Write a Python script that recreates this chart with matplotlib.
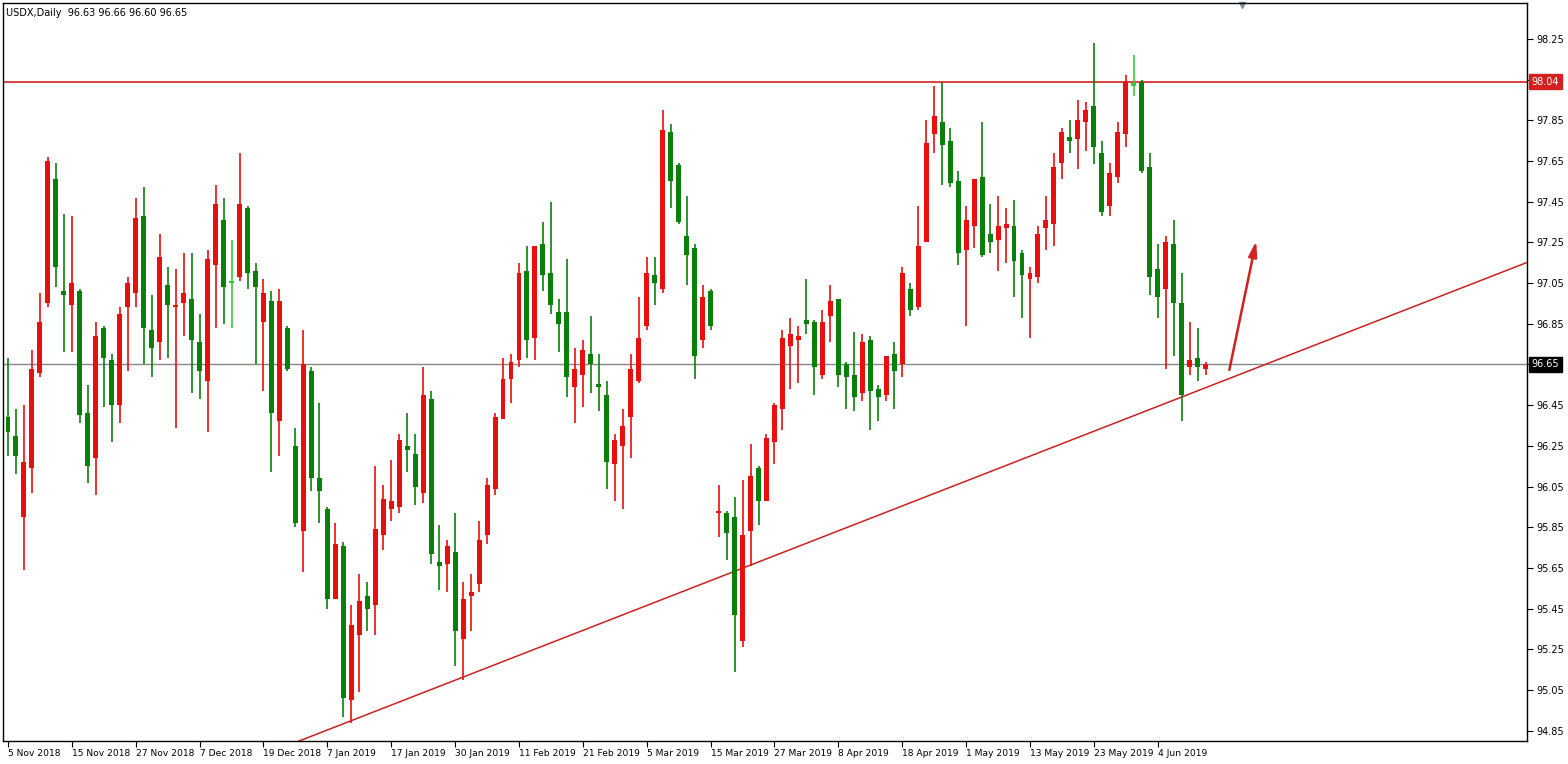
import matplotlib.pyplot as plt
import numpy as np

opens = [96.39, 96.30, 95.90, 96.14, 96.61, 96.95, 97.56, 97.01, 96.94, 97.01,
         96.41, 96.19, 96.83, 96.67, 96.45, 96.93, 97.00, 97.38, 96.82, 96.76,
         97.04, 96.93, 96.95, 96.97, 96.76, 96.57, 97.14, 97.36, 97.05, 97.08,
         97.42, 97.11, 96.86, 96.96, 96.37, 96.83, 96.25, 95.83, 96.62, 96.09,
         95.94, 95.50, 95.76, 95.00, 95.32, 95.51, 95.47, 95.81, 95.94, 95.95,
         96.25, 96.21, 96.02, 96.48, 95.68, 95.67, 95.73, 95.30, 95.51, 95.57,
         95.81, 96.04, 96.38, 96.58, 96.67, 97.11, 96.78, 97.24, 97.10, 96.91,
         96.91, 96.54, 96.60, 96.70, 96.55, 96.50, 96.16, 96.25, 96.39, 96.57,
         96.84, 97.09, 97.02, 97.79, 97.63, 97.28, 97.22, 96.77, 97.01, 95.92,
         95.92, 95.90, 95.29, 95.83, 96.14, 95.98, 96.27, 96.43, 96.74, 96.77,
         96.87, 96.86, 96.60, 96.89, 96.97, 96.65, 96.60, 96.51, 96.77, 96.53,
         96.50, 96.70, 96.65, 97.02, 96.93, 97.25, 97.78, 97.84, 97.75, 97.55,
         97.21, 97.33, 97.57, 97.29, 97.26, 97.32, 97.33, 97.20, 97.07, 97.08,
         97.32, 97.34, 97.64, 97.77, 97.76, 97.84, 97.92, 97.69, 97.43, 97.57,
         97.78, 98.02, 98.04, 97.62, 97.12, 97.02, 97.24, 96.95, 96.64, 96.68,
         96.63]
highs = [96.68, 96.43, 96.45, 96.72, 97.00, 97.67, 97.64, 97.39, 97.38, 97.02,
         96.55, 96.86, 96.84, 96.70, 96.93, 97.08, 97.47, 97.52, 96.99, 97.29,
         97.13, 97.12, 97.20, 97.20, 96.90, 97.21, 97.53, 97.47, 97.26, 97.69,
         97.43, 97.15, 97.07, 97.01, 97.02, 96.84, 96.34, 96.82, 96.64, 96.46,
         95.95, 95.87, 95.78, 95.47, 95.62, 95.58, 96.15, 96.06, 96.18, 96.31,
         96.41, 96.31, 96.64, 96.52, 95.86, 95.79, 95.92, 95.58, 95.62, 95.88,
         96.09, 96.41, 96.68, 96.70, 97.15, 97.23, 97.23, 97.35, 97.45, 96.97,
         97.17, 96.73, 96.77, 96.89, 96.70, 96.57, 96.31, 96.43, 96.70, 96.98,
         97.18, 97.18, 97.90, 97.83, 97.64, 97.48, 97.24, 97.04, 97.02, 96.06,
         95.93, 96.00, 96.08, 96.26, 96.15, 96.31, 96.46, 96.82, 96.88, 96.84,
         97.07, 96.87, 96.92, 97.04, 96.97, 96.66, 96.81, 96.80, 96.79, 96.55,
         96.69, 96.76, 97.13, 97.05, 97.43, 97.85, 98.02, 98.04, 97.81, 97.60,
         97.43, 97.56, 97.84, 97.44, 97.48, 97.42, 97.46, 97.21, 97.13, 97.33,
         97.48, 97.69, 97.81, 97.85, 97.95, 97.94, 98.23, 97.75, 97.64, 97.84,
         98.07, 98.17, 98.05, 97.69, 97.24, 97.28, 97.36, 97.10, 96.86, 96.83,
         96.66]
lows = [96.20, 96.11, 95.64, 96.02, 96.59, 96.93, 97.03, 96.71, 96.71, 96.36,
        96.07, 96.01, 96.44, 96.27, 96.36, 96.62, 96.93, 96.65, 96.59, 96.67,
        96.68, 96.34, 96.79, 96.51, 96.48, 96.32, 96.83, 96.85, 96.83, 97.06,
        97.02, 96.65, 96.52, 96.12, 96.20, 96.62, 95.85, 95.63, 96.03, 95.87,
        95.45, 95.50, 94.92, 94.89, 95.04, 95.34, 95.32, 95.74, 95.88, 95.92,
        96.12, 95.96, 95.97, 95.67, 95.54, 95.53, 95.17, 95.10, 95.34, 95.53,
        95.77, 96.01, 96.38, 96.46, 96.64, 96.68, 96.67, 97.01, 96.90, 96.71,
        96.49, 96.36, 96.44, 96.51, 96.42, 96.04, 95.98, 95.94, 96.19, 96.56,
        96.82, 96.94, 97.00, 97.42, 97.34, 97.04, 96.58, 96.73, 96.82, 95.80,
        95.69, 95.14, 95.26, 95.66, 95.86, 95.98, 96.16, 96.33, 96.53, 96.56,
        96.80, 96.50, 96.58, 96.76, 96.54, 96.43, 96.42, 96.47, 96.33, 96.37,
        96.47, 96.43, 96.59, 96.89, 96.92, 97.25, 97.69, 97.53, 97.52, 97.14,
        96.84, 97.22, 97.18, 97.20, 97.11, 97.15, 96.98, 96.88, 96.78, 97.05,
        97.21, 97.23, 97.56, 97.69, 97.61, 97.70, 97.635, 97.38, 97.38, 97.54,
        97.72, 97.97, 97.59, 96.99, 96.88, 96.63, 96.69, 96.37, 96.60, 96.57,
        96.60]
closes = [96.32, 96.20, 96.17, 96.63, 96.86, 97.65, 97.13, 96.99, 97.05, 96.40,
          96.15, 96.79, 96.68, 96.45, 96.90, 97.05, 97.37, 96.83, 96.73, 97.18,
          96.94, 96.94, 97.00, 96.77, 96.62, 97.17, 97.44, 97.03, 97.05, 97.44,
          97.10, 97.03, 97.00, 96.41, 96.96, 96.63, 95.87, 96.65, 96.09, 96.03,
          95.50, 95.77, 95.01, 95.37, 95.49, 95.45, 95.84, 95.99, 95.98, 96.28,
          96.23, 96.05, 96.50, 95.72, 95.66, 95.76, 95.34, 95.50, 95.53, 95.79,
          96.06, 96.39, 96.58, 96.66, 97.10, 96.77, 97.23, 97.09, 96.94, 96.85,
          96.59, 96.63, 96.72, 96.65, 96.54, 96.17, 96.28, 96.35, 96.63, 96.78,
          97.10, 97.05, 97.80, 97.55, 97.35, 97.19, 96.69, 96.98, 96.84, 95.93,
          95.82, 95.42, 95.81, 96.10, 95.98, 96.29, 96.45, 96.78, 96.80, 96.79,
          96.85, 96.64, 96.86, 96.96, 96.60, 96.59, 96.49, 96.76, 96.52, 96.49,
          96.69, 96.62, 97.10, 96.92, 97.23, 97.74, 97.87, 97.73, 97.54, 97.20,
          97.36, 97.56, 97.19, 97.25, 97.33, 97.34, 97.16, 97.09, 97.10, 97.29,
          97.36, 97.62, 97.79, 97.75, 97.85, 97.90, 97.72, 97.40, 97.59, 97.79,
          98.04, 98.02, 97.60, 97.08, 96.98, 97.25, 96.95, 96.50, 96.67, 96.64,
          96.65]

date_labels = ['5 Nov 2018', '15 Nov 2018', '27 Nov 2018', '7 Dec 2018', '19 Dec 2018',
               '7 Jan 2019', '17 Jan 2019', '30 Jan 2019', '11 Feb 2019', '21 Feb 2019',
               '5 Mar 2019', '15 Mar 2019', '27 Mar 2019', '8 Apr 2019', '18 Apr 2019',
               '1 May 2019', '13 May 2019', '23 May 2019', '4 Jun 2019']
date_index = list(range(0, 145, 8))

resistance = 98.04
last_price = 96.65
trend_a = (43, 94.90)
trend_b = (147, 96.49)

UP = '#e8100f'
DOWN = '#0a800a'
DOJI = '#33cc33'

YMIN, YMAX = 94.80, 98.426

fig = plt.figure(figsize=(15.68, 7.64), dpi=100)
ax = fig.add_axes([3 / 1568, 23 / 764, 1524 / 1568, 738 / 764])

o = np.array(opens); h = np.array(highs); l = np.array(lows); c = np.array(closes)
x = np.arange(len(o))
cols = np.where(c > o, UP, np.where(c < o, DOWN, DOJI))

ax.vlines(x, l, h, colors=cols, linewidth=1.2, zorder=3)
bottom = np.minimum(o, c)
height = np.maximum(np.abs(c - o), 0.012)
ax.bar(x, height, bottom=bottom, width=0.62, color=cols, linewidth=0, zorder=4)

# horizontal levels
ax.axhline(resistance, color='#d42020', linewidth=1.2, zorder=2)
ax.axhline(last_price, color='#888888', linewidth=1.0, zorder=2)

# trendline through two lows, extended to the right edge
xs = np.array([30, 200])
slope = (trend_b[1] - trend_a[1]) / (trend_b[0] - trend_a[0])
ax.plot(xs, trend_a[1] + slope * (xs - trend_a[0]), color='#cc2020', linewidth=1.1, zorder=2)

ax.annotate('', xy=(156.4, 97.27), xytext=(152.9, 96.61),
            arrowprops=dict(arrowstyle='-|>,head_width=0.25,head_length=0.9',
                            color='#d02020', lw=1.8), zorder=5)

ax.set_xlim(-0.625, 190.25)
ax.set_ylim(YMIN, YMAX)

ax.yaxis.tick_right()
yt = np.round(np.arange(94.85, 98.30, 0.2), 2)
ax.set_yticks(yt)
# tick labels hidden under the price boxes
ax.set_yticklabels(['' if abs(v - resistance) < 0.05 or abs(v - last_price) < 0.05 else f'{v:.2f}'
                    for v in yt], fontsize=7)
ax.tick_params(axis='y', length=4, pad=3, direction='out')
ax.set_xticks(date_index)
ax.set_xticklabels(date_labels, fontsize=6.6, ha='left')
for lab in ax.get_xticklabels():
    lab.set_x(lab.get_position()[0])
ax.tick_params(axis='x', length=4, pad=2, direction='out')
for s in ax.spines.values():
    s.set_color('black')
    s.set_linewidth(1)

# price labels on the right axis
ax.text(1.003, (resistance - YMIN) / (YMAX - YMIN), f'{resistance:.2f}', transform=ax.transAxes,
        fontsize=7, color='white', va='center', ha='left', zorder=6,
        bbox=dict(boxstyle='square,pad=0.25', fc='#d42020', ec='#d42020'))
ax.text(1.003, (last_price - YMIN) / (YMAX - YMIN), f'{last_price:.2f}', transform=ax.transAxes,
        fontsize=7, color='white', va='center', ha='left', zorder=6,
        bbox=dict(boxstyle='square,pad=0.25', fc='black', ec='black'))

ax.text(0.002, 0.993, 'USDX,Daily  96.63 96.66 96.60 96.65', transform=ax.transAxes,
        fontsize=7, va='top', ha='left')
ax.plot([154.6], [98.415], marker='v', color='#8090a0', markersize=5, clip_on=False)

fig.savefig('out.png', dpi=100)
